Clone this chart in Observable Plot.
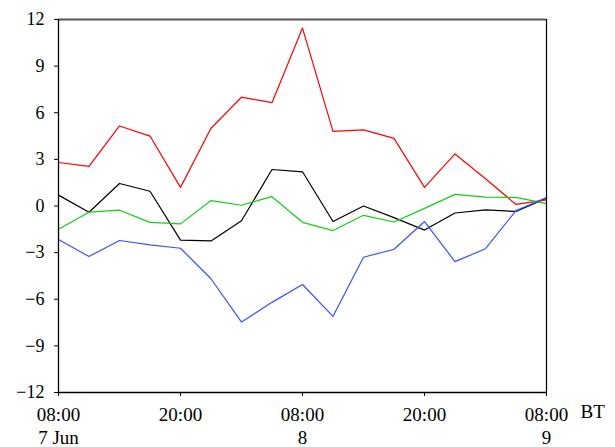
<!DOCTYPE html>
<html>
<head>
<meta charset="utf-8">
<script src="https://cdn.jsdelivr.net/npm/d3@7"></script>
<script src="https://cdn.jsdelivr.net/npm/@observablehq/plot@0.6"></script>
<style>
  html, body { margin: 0; padding: 0; background: #fff; }
  #chart svg, #chart svg text { font-family: "Liberation Serif", "Times New Roman", serif !important; }
</style>
</head>
<body>
<div id="chart"></div>
<script>
// Hours since 08:00 7 Jun (BT), 3-hourly
const hours = [0, 3, 6, 9, 12, 15, 18, 21, 24, 27, 30, 33, 36, 39, 42, 45, 48];
const redSeries   = [2.8, 2.55, 5.15, 4.5, 1.2, 5.0, 7.0, 6.65, 11.45, 4.8, 4.9, 4.35, 1.2, 3.35, 1.75, 0.1, 0.4];
const blackSeries = [0.7, -0.4, 1.45, 0.95, -2.2, -2.25, -0.95, 2.35, 2.2, -1.0, 0.0, -0.75, -1.55, -0.45, -0.25, -0.35, 0.5];
const greenSeries = [-1.5, -0.4, -0.27, -1.05, -1.15, 0.35, 0.05, 0.6, -1.05, -1.58, -0.6, -1.03, -0.15, 0.75, 0.57, 0.55, 0.15];
const blueSeries  = [-2.15, -3.25, -2.22, -2.5, -2.72, -4.68, -7.47, -6.2, -5.05, -7.1, -3.3, -2.78, -1.0, -3.58, -2.75, -0.3, 0.55];

const xTicks = [0, 12, 24, 36, 48];
const xTickLabels = ["08:00\n7 Jun", "20:00", "08:00\n8", "20:00", "08:00\n9"];
const yTicks = [-12, -9, -6, -3, 0, 3, 6, 9, 12];
const unitLabel = "BT";

const series = [
  {name: "S-black", color: "#000000", values: blackSeries},
  {name: "S-red", color: "#ff0000", values: redSeries},
  {name: "S-green", color: "#11d011", values: greenSeries},
  {name: "S-blue", color: "#3355ff", values: blueSeries}
];
const rows = series.flatMap(s => s.values.map((v, i) => ({series: s.name, h: hours[i], v})));
const colorDomain = series.map(s => s.name);
const colorRange = series.map(s => s.color);

const chart = Plot.plot({
  width: 615,
  height: 447,
  marginLeft: 58,
  marginRight: 69,
  marginTop: 19,
  marginBottom: 55,
  style: {fontFamily: "Liberation Serif, serif", background: "#fff", color: "#000", overflow: "visible"},
  x: {domain: [0, 48]},
  y: {domain: [-12, 12]},
  color: {domain: colorDomain, range: colorRange},
  marks: [
    Plot.axisY({
      ticks: yTicks,
      tickSize: 4,
      tickPadding: 10,
      fontSize: 18,
      label: null,
      tickFormat: d => d < 0 ? "\u2212" + Math.abs(d) : String(d)
    }),
    Plot.axisX({
      ticks: xTicks,
      tickSize: 4,
      tickPadding: 8,
      fontSize: 19,
      lineHeight: 1.22,
      label: null,
      tickFormat: d => xTickLabels[xTicks.indexOf(d)]
    }),
    Plot.text([unitLabel], {
      frameAnchor: "bottom-right",
      text: d => d,
      dx: 34,
      dy: 12,
      lineAnchor: "top",
      textAnchor: "start",
      fontSize: 19
    }),
    Plot.line(rows, {x: "h", y: "v", z: "series", stroke: "series", strokeWidth: 1.2}),
    Plot.ruleY([12], {stroke: "#555", strokeWidth: 2}),
    Plot.ruleY([-12], {stroke: "#000", strokeWidth: 1.3}),
    Plot.ruleX([0], {stroke: "#000", strokeWidth: 1.3}),
    Plot.ruleX([48], {stroke: "#000", strokeWidth: 1.2})
  ]
});
document.getElementById("chart").appendChild(chart);
</script>
</body>
</html>
